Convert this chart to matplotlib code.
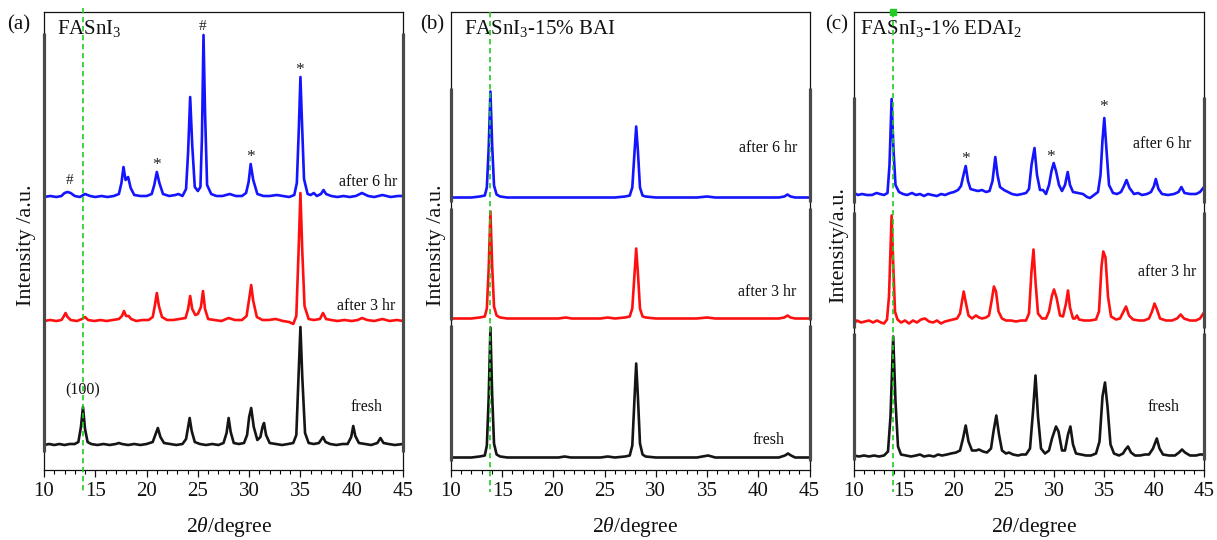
import matplotlib
matplotlib.use('Agg')
import matplotlib.pyplot as plt
from matplotlib.ticker import MultipleLocator

plt.rcParams['font.family'] = ['Liberation Serif', 'DejaVu Serif']
plt.rcParams['mathtext.fontset'] = 'custom'
plt.rcParams['mathtext.rm'] = 'Liberation Serif'
plt.rcParams['mathtext.it'] = 'Liberation Serif:italic'

# ---------------- data: (2theta, intensity a.u.) ----------------
A_FRESH = [(10.0,0),(10.5,1),(11.0,0),(11.5,1),(12.0,0),(12.5,1),(13.0,1),(13.35,3),(13.6,18),(13.8,38),(14.0,16),(14.25,3),(14.6,1),(15.2,0),(15.8,1),(16.4,0),(17.0,1),(17.3,2),(17.6,1),(18.2,0),(18.8,1),(19.4,0),(20.0,1),(20.6,3),(20.85,10),(21.1,17),(21.35,8),(21.7,2),(22.3,1),(22.9,0),(23.5,1),(23.85,6),(24.05,18),(24.2,27),(24.4,14),(24.7,3),(25.2,1),(25.8,0),(26.4,1),(27.0,0),(27.5,2),(27.8,12),(28.0,27),(28.2,13),(28.5,2),(29.0,1),(29.5,2),(29.8,10),(30.0,28),(30.2,37),(30.45,18),(30.8,5),(31.1,8),(31.3,18),(31.45,22),(31.65,10),(32.0,2),(32.6,1),(33.2,0),(33.8,1),(34.3,2),(34.6,10),(34.82,70),(35.0,118),(35.18,68),(35.45,12),(35.8,2),(36.3,1),(36.8,2),(37.0,5),(37.2,8),(37.45,3),(37.9,1),(38.5,0),(39.1,1),(39.6,1),(39.95,8),(40.15,19),(40.35,9),(40.7,2),(41.3,1),(41.9,0),(42.5,2),(42.8,7),(43.1,2),(43.6,1),(44.2,0),(45.0,1)]
A_3HR = [(10.0,0),(10.6,1),(11.2,0),(11.7,1),(11.95,5),(12.1,8),(12.3,4),(12.6,1),(13.2,0),(13.7,2),(14.0,4),(14.3,1),(14.9,0),(15.5,1),(16.1,0),(16.7,1),(17.3,2),(17.6,5),(17.8,10),(18.0,5),(18.25,5),(18.5,2),(19.0,0),(19.6,1),(20.2,1),(20.6,4),(20.8,15),(21.0,28),(21.2,15),(21.5,4),(22.0,1),(22.6,1),(23.2,2),(23.8,3),(24.05,12),(24.25,25),(24.45,12),(24.75,6),(25.0,7),(25.3,14),(25.5,30),(25.7,12),(26.0,2),(26.6,1),(27.3,0),(28.0,3),(28.6,1),(29.3,1),(29.75,5),(30.0,22),(30.2,36),(30.4,20),(30.75,4),(31.3,1),(31.9,1),(32.6,2),(33.3,0),(33.9,-1),(34.3,-3),(34.6,5),(34.82,70),(35.0,128),(35.18,70),(35.4,15),(35.8,2),(36.3,1),(36.9,2),(37.2,8),(37.5,2),(38.0,1),(38.6,0),(39.3,1),(40.0,0),(40.6,1),(41.0,3),(41.5,1),(42.2,0),(43.0,2),(43.7,0),(44.4,1),(45.0,0)]
A_6HR = [(10.0,0),(10.6,1),(11.2,0),(11.7,1),(12.0,4),(12.3,5),(12.6,4),(13.0,1),(13.5,0),(14.0,3),(14.5,1),(15.0,0),(15.6,1),(16.2,0),(16.8,1),(17.3,3),(17.55,14),(17.75,30),(17.95,17),(18.2,20),(18.45,9),(18.8,2),(19.4,1),(20.0,1),(20.5,3),(20.75,12),(21.0,25),(21.25,14),(21.6,3),(22.2,1),(22.8,2),(23.1,3),(23.5,1),(23.85,8),(24.05,45),(24.25,100),(24.45,52),(24.7,10),(25.0,6),(25.25,10),(25.4,60),(25.55,162),(25.7,85),(25.9,12),(26.3,3),(26.8,1),(27.4,1),(28.1,3),(28.7,1),(29.3,1),(29.7,4),(29.95,15),(30.15,33),(30.4,17),(30.8,3),(31.4,1),(32.0,1),(32.7,2),(33.3,1),(33.9,0),(34.4,2),(34.65,14),(34.85,70),(35.0,120),(35.15,75),(35.35,18),(35.7,3),(36.0,2),(36.3,4),(36.6,1),(37.0,3),(37.25,7),(37.5,3),(38.0,1),(38.6,0),(39.2,1),(39.8,0),(40.4,1),(41.0,4),(41.6,1),(42.2,0),(43.0,2),(43.8,0),(44.5,1),(45.0,1)]

B_FRESH = [(10.0,0),(11.0,0),(12.0,0),(12.8,1),(13.3,2),(13.5,12),(13.68,60),(13.85,130),(14.02,62),(14.2,14),(14.45,3),(14.8,1),(15.5,0),(17.0,0),(19.0,0),(20.5,0),(21.1,1),(21.7,0),(23.0,0),(24.6,0),(25.3,1),(26.0,0),(27.0,1),(27.45,2),(27.7,12),(27.92,60),(28.08,94),(28.25,60),(28.45,14),(28.7,3),(29.0,1),(30.0,0),(32.0,0),(34.0,0),(35.1,2),(35.8,0),(38.0,0),(40.0,0),(42.0,0),(42.6,2),(42.9,4),(43.2,2),(43.6,0),(45.0,0)]
B_3HR = [(10.0,0),(11.0,0),(12.0,0),(12.8,1),(13.3,2),(13.5,10),(13.68,50),(13.85,107),(14.02,52),(14.2,12),(14.45,3),(14.8,1),(15.5,0),(17.0,0),(19.0,0),(20.5,0),(21.2,1),(21.8,0),(23.0,0),(24.6,0),(25.3,1),(26.0,0),(27.0,1),(27.45,2),(27.7,10),(27.92,45),(28.08,70),(28.25,45),(28.45,10),(28.7,2),(29.0,1),(30.0,0),(32.0,0),(34.0,0),(35.0,1),(35.8,0),(38.0,0),(40.0,0),(42.0,0),(42.55,1),(42.85,3),(43.15,1),(43.6,0),(45.0,0)]
B_6HR = [(10.0,0),(11.0,0),(12.0,0),(12.8,1),(13.3,2),(13.5,10),(13.68,50),(13.85,106),(14.02,52),(14.2,12),(14.45,3),(14.8,1),(15.5,0),(17.0,0),(19.0,0),(21.0,0),(23.0,0),(25.0,0),(26.0,0),(27.0,1),(27.45,2),(27.7,10),(27.92,46),(28.08,71),(28.25,46),(28.45,10),(28.7,2),(29.0,1),(30.0,0),(32.0,0),(34.0,0),(35.0,1),(35.8,0),(38.0,0),(40.0,0),(42.0,0),(42.55,1),(42.85,3),(43.15,1),(43.6,0),(45.0,0)]

C_FRESH = [(10.0,1),(10.5,0),(11.0,1),(11.5,0),(12.0,1),(12.5,0),(13.0,1),(13.4,5),(13.65,40),(13.92,120),(14.15,55),(14.4,10),(14.7,2),(15.2,1),(15.7,0),(16.2,1),(16.6,2),(17.0,0),(17.5,1),(18.0,0),(18.4,2),(18.8,1),(19.3,2),(19.7,3),(20.2,4),(20.6,6),(20.9,18),(21.17,31),(21.45,15),(21.8,6),(22.2,6),(22.5,7),(22.9,5),(23.3,4),(23.7,8),(23.95,25),(24.23,41),(24.5,22),(24.8,6),(25.2,3),(25.5,4),(25.9,2),(26.4,1),(26.8,2),(27.2,2),(27.6,8),(27.9,45),(28.15,81),(28.4,40),(28.7,8),(29.1,3),(29.5,6),(29.8,18),(30.2,30),(30.45,25),(30.8,6),(31.1,6),(31.4,22),(31.64,30),(31.9,12),(32.2,3),(32.7,2),(33.2,1),(33.7,1),(34.2,3),(34.55,15),(34.85,60),(35.1,74),(35.35,50),(35.65,12),(36.0,3),(36.5,1),(36.9,3),(37.15,7),(37.4,10),(37.7,4),(38.1,1),(38.6,1),(39.1,2),(39.5,2),(39.9,8),(40.28,18),(40.55,8),(40.9,2),(41.5,1),(42.1,1),(42.5,4),(42.8,7),(43.1,4),(43.6,1),(44.2,1),(44.6,2),(45.0,2)]
C_3HR = [(10.0,-2),(10.3,1),(10.7,-1),(11.1,0),(11.5,1),(11.9,-1),(12.3,1),(12.7,-1),(13.0,-2),(13.3,2),(13.5,25),(13.76,106),(13.95,50),(14.1,10),(14.35,2),(14.7,-1),(15.1,1),(15.5,-2),(15.9,1),(16.3,-1),(16.7,2),(17.1,3),(17.5,0),(17.9,-1),(18.3,1),(18.7,-2),(19.1,0),(19.5,1),(19.9,2),(20.3,3),(20.6,8),(20.8,20),(20.97,30),(21.2,18),(21.45,6),(21.8,3),(22.2,6),(22.5,4),(22.8,3),(23.2,4),(23.5,6),(23.75,20),(23.99,35),(24.2,30),(24.45,10),(24.8,3),(25.2,1),(25.7,1),(26.2,0),(26.7,1),(27.2,1),(27.5,8),(27.75,50),(27.95,72),(28.15,40),(28.4,8),(28.8,3),(29.2,3),(29.5,10),(29.8,26),(30.0,32),(30.25,24),(30.6,6),(30.9,5),(31.2,18),(31.4,31),(31.6,14),(31.9,3),(32.1,3),(32.3,6),(32.5,2),(33.0,1),(33.6,1),(34.2,2),(34.5,10),(34.75,55),(34.93,70),(35.15,64),(35.4,25),(35.7,5),(36.2,2),(36.6,3),(36.95,10),(37.2,15),(37.5,6),(37.9,2),(38.5,1),(39.0,1),(39.5,3),(39.8,10),(40.05,18),(40.3,12),(40.6,3),(41.2,1),(41.8,1),(42.3,3),(42.67,7),(43.0,3),(43.6,1),(44.2,1),(44.6,3),(45.0,9)]
C_6HR = [(10.0,2),(10.4,0),(10.8,1),(11.3,0),(11.8,0),(12.25,2),(12.6,1),(13.0,0),(13.35,2),(13.55,30),(13.76,96),(13.95,45),(14.15,10),(14.5,3),(14.9,1),(15.3,0),(15.8,2),(16.2,0),(16.6,1),(17.0,-1),(17.4,1),(17.8,0),(18.3,-1),(18.7,1),(19.1,0),(19.6,2),(20.0,3),(20.4,5),(20.7,9),(20.95,20),(21.17,29),(21.4,14),(21.65,6),(22.0,5),(22.4,4),(22.8,5),(23.2,3),(23.55,4),(23.85,14),(24.13,38),(24.35,20),(24.6,8),(25.0,5),(25.4,3),(25.8,1),(26.3,0),(26.8,1),(27.2,2),(27.5,6),(27.75,30),(28.05,47),(28.3,20),(28.6,5),(28.9,5),(29.2,1),(29.5,10),(29.75,24),(29.97,32),(30.2,24),(30.5,10),(30.8,4),(31.1,10),(31.37,23),(31.6,10),(31.9,3),(32.4,2),(32.9,1),(33.3,-2),(33.6,-3),(34.0,0),(34.4,3),(34.65,20),(34.85,55),(35.03,77),(35.25,45),(35.5,10),(35.9,2),(36.3,1),(36.7,3),(37.0,9),(37.25,15),(37.55,7),(38.0,1),(38.4,2),(38.8,0),(39.3,1),(39.7,3),(40.0,9),(40.18,16),(40.45,6),(40.8,1),(41.4,0),(42.0,1),(42.45,3),(42.74,8),(43.05,2),(43.6,1),(44.2,1),(44.6,3),(45.0,8)]

SERIES_LABELS = ['fresh', 'after 3 hr', 'after 6 hr']
PANEL_TITLES = [r'FASnI$_3$', r'FASnI$_3$-15% BAI', r'FASnI$_3$-1% EDAI$_2$']
PANEL_TAGS = ['(a)', '(b)', '(c)']
YLABELS = ['Intensity /a.u.', 'Intensity /a.u.', 'Intensity/a.u.']
XTICKS = [10, 15, 20, 25, 30, 35, 40, 45]
REF_LINE = [13.83, 13.84, 13.92]          # (100) reference position
# markers: (2theta, height in a.u. above the panel bottom, symbol)
MARKS_A = [(12.45, 290, '#'), (21.0, 305, '*'), (25.45, 443, '#'), (30.1, 313, '*'), (34.95, 400, '*')]
MARKS_C = [(21.17, 311, '*'), (29.7, 313, '*'), (34.93, 363, '*')]

# ---------------- layout (pixel based) ----------------
W, H = 1217, 540
TOP, BOT = 12, 470
fig = plt.figure(figsize=(W / 100, H / 100), dpi=100)

panels = [
    dict(l=44, r=403, data=[A_FRESH, A_3HR, A_6HR], off=[25, 149, 273],
         lab=[(41.4, 63), (41.45, 164), (41.65, 288)], marks=MARKS_A,
         layers=[(18, 437)], tagx=7, ylx=27, titlex=57),
    dict(l=451, r=809.5, data=[B_FRESH, B_3HR, B_6HR], off=[12.5, 151.5, 272.5],
         lab=[(41.0, 30), (40.9, 178), (41.0, 322)], marks=[],
         layers=[(9, 145), (150, 262), (268, 382)], tagx=420, ylx=437, titlex=464),
    dict(l=854, r=1204, data=[C_FRESH, C_3HR, C_6HR], off=[13.5, 148.5, 275],
         lab=[(40.95, 63), (41.35, 198), (40.8, 326)], marks=MARKS_C,
         layers=[(10, 137), (142, 258), (267, 373)], tagx=825, ylx=839, titlex=860),
]
COLORS = ['#151515', '#ff1010', '#1414ff']

for i, p in enumerate(panels):
    ax = fig.add_axes([p['l'] / W, (H - BOT) / H, (p['r'] - p['l']) / W, (BOT - TOP) / H])
    ax.set_xlim(10, 45)
    ax.set_ylim(0, BOT - TOP)
    for trace, off, col, (lx, ly), name in zip(p['data'], p['off'], COLORS, p['lab'], SERIES_LABELS):
        xs = [t[0] for t in trace]
        ys = [t[1] + off for t in trace]
        ax.plot(xs, ys, color=col, lw=1.9, solid_joinstyle='round', zorder=3)
        ax.text(lx, ly, name, ha='center', va='center', fontsize=11.5, color='#111111')
    for (mx, my, sym) in p['marks']:
        ax.text(mx, my, sym, ha='center', va='center', fontsize=12.5 if sym == '*' else 11,
                color='#222222')
    if i == 0:
        ax.text(13.8, 80, '(100)', ha='center', va='center', fontsize=11.5, color='#111111')
    # stacked-layer side bars
    for (y0, y1) in p['layers']:
        for xe in (10, 45):
            ax.plot([xe, xe], [y0, y1], color='#4a4a4a', lw=2.3, solid_capstyle='butt',
                    clip_on=False, zorder=4)
    # reference dashed line
    ax.plot([REF_LINE[i]] * 2, [BOT - TOP + 4 if i == 0 else BOT - TOP, -22], color='#22cc22',
            lw=1.2, ls=(0, (3.2, 2.2)), clip_on=False, zorder=5)
    if i == 2:
        ax.plot([REF_LINE[i]], [BOT - TOP], marker='s', ms=4, color='#22cc22',
                clip_on=False, zorder=6)
    ax.set_xticks(XTICKS)
    ax.xaxis.set_minor_locator(MultipleLocator(1))
    ax.set_yticks([])
    ax.tick_params(axis='x', which='major', direction='out', length=5, width=0.9,
                   labelsize=15, pad=4, colors='#111111')
    ax.tick_params(axis='x', which='minor', direction='out', length=3, width=0.8)
    for s in ax.spines.values():
        s.set_linewidth(0.9)
        s.set_color('#111111')
    ax.text((p['titlex'] - p['l']) / (p['r'] - p['l']), 0.965, PANEL_TITLES[i],
            transform=ax.transAxes, ha='left', va='center', fontsize=15, color='#111111')
    fig.text(p['tagx'] / W, 1 - 25 / H, PANEL_TAGS[i], ha='left', va='center',
             fontsize=15, color='#111111')
    fig.text(p['ylx'] / W, 1 - 245 / H, YLABELS[i], rotation=90, ha='center', va='center',
             fontsize=16, color='#111111')
    fig.text((p['l'] + p['r']) / 2 / W + 5 / W, 1 - 532 / H, r'2$\theta$/degree',
             ha='center', va='baseline', fontsize=15.5, color='#111111')

fig.savefig('out.png', dpi=100)
